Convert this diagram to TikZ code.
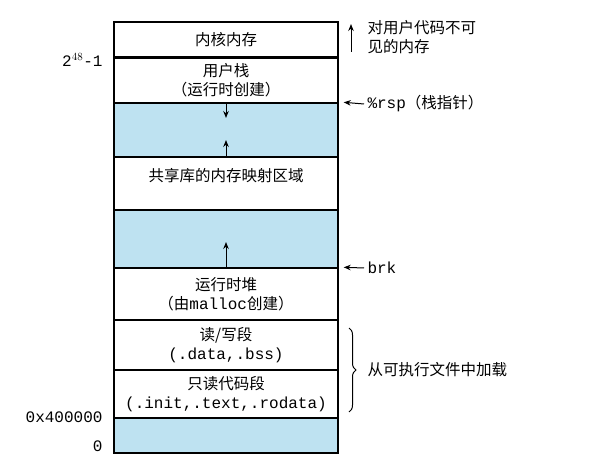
\documentclass[tikz,border=0pt]{standalone}
\usepackage{fontspec}
\setmonofont{Liberation Mono}
\newfontfamily\cjk{Noto Sans CJK SC}
\usepackage{xcolor}
\usetikzlibrary{
  arrows.meta,
  calc,
  decorations.pathreplacing
}
\definecolor{memblue}{RGB}{190,226,241}
\newcommand{\cn}{\cjk\fontsize{15.5}{19.5}\selectfont}
\newcommand{\code}[1]{{\ttfamily\fontsize{16}{19.5}\selectfont #1}}
\tikzset{
  seg/.style={
    draw,
    line width=1.4pt,
    minimum width=224pt,
    inner sep=0pt,
    align=center,
    font=\cn},
  gap/.style={seg, fill=memblue},
  growarrow/.style={
    -{Stealth[length=7pt,width=5.5pt]},
    line width=1pt},
  note/.style={anchor=west, align=left, font=\cn}
  }

\begin{document}
\begin{tikzpicture}[x=1pt, y=-1pt]
  \useasboundingbox (0,0) rectangle (605,470);
  % segments, top to bottom
  \node[seg, minimum height=35pt] (kernel) at (226,39.5) {内核内存};
  \node[seg, minimum height=46pt] (ustack) at (226,80) {用户栈\\（运行时创建）};
  \node[gap, minimum height=54pt] (gap1) at (226,130) {};
  \node[seg, minimum height=53pt,
    label={[yshift=8pt, font=\cn]center:共享库的内存映射区域}] (shlib) at (226,183.5) {};
  \node[gap, minimum height=58pt] (gap2) at (226,239) {};
  \node[seg, minimum height=52pt] (heap) at (226,294) {运行时堆\\（由\code{malloc}创建）};
  \node[seg, minimum height=50pt] (rw) at (226,345) {读/写段\\\code{(.data,.bss)}};
  \node[seg, minimum height=48pt] (ro) at (226,394) {只读代码段\\\code{(.init,.text,.rodata)}};
  \node[gap, minimum height=35pt] (bottom) at (226,435.5) {};
  \draw [line width=3pt] (kernel.south west) -- (kernel.south east);
  % growth arrows
  \coordinate (sp) at (226,118);
  \coordinate (mm) at (226,140);
  \coordinate (hp) at (226,242);
  \path [growarrow]
    (ustack.south) edge[] (sp)
    (shlib.north) edge[] (mm)
    (heap.north) edge[] (hp);
  % addresses
  \node[anchor=east] (top) at (106,60) {\code{2$^{48}$-1}};
  \node[anchor=east] (start) at (106,417) {\code{0x400000}};
  \node[anchor=east] (zero) at (106,446) {\code{0}};
  % notes on the right
  \node[note] (hidden) at (364,37) {对用户代码不可\\见的内存};
  \node[note] (rsp) at (364,104) {\code{\%rsp}（栈指针）};
  \node[note] (brk) at (364,268) {\code{brk}};
  \node[note] (load) at (364,370) {从可执行文件中加载};
  \coordinate (h1) at (351,52);
  \coordinate (h2) at (351,24);
  \coordinate (b1) at (349,328);
  \coordinate (b2) at (349,412);
  \path [growarrow]
    (h1) edge[] (h2)
    (rsp.west) edge[] ([xshift=5pt]gap1.north east)
    (brk.west) edge[] ([xshift=5pt]heap.north east);
  \draw [line width=1pt, decorate, decoration={brace, amplitude=7pt}]
    (b1) -- (b2);
\end{tikzpicture}
\end{document}
